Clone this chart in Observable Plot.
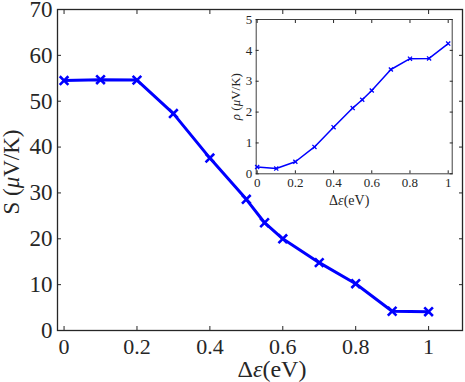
<!DOCTYPE html>
<html>
<head>
<meta charset="utf-8">
<script src="https://cdn.jsdelivr.net/npm/d3@7"></script>
<script src="https://cdn.jsdelivr.net/npm/@observablehq/plot@0.6"></script>
<style>
  body { margin: 0; background: white; font-family: serif; }
  #wrap { position: relative; width: 465px; height: 382px; }
  #inset { position: absolute; left: 220px; top: 0px; }
</style>
</head>
<body>
<div id="wrap"><div id="main"></div><div id="inset"></div></div>
<script>
// Data
const deltaEps = [0, 0.1, 0.2, 0.3, 0.4, 0.5, 0.55, 0.6, 0.7, 0.8, 0.9, 1.0];
const seebeck  = [54.5, 54.7, 54.6, 47.3, 37.6, 28.6, 23.5, 20.0, 14.8, 10.2, 4.2, 4.1];
const rho      = [0.22, 0.17, 0.39, 0.87, 1.51, 2.13, 2.40, 2.70, 3.38, 3.73, 3.74, 4.22];

const mainXTicks = [0, 0.2, 0.4, 0.6, 0.8, 1];
const mainYTicks = [0, 10, 20, 30, 40, 50, 60, 70];
const insetXTicks = [0, 0.2, 0.4, 0.6, 0.8, 1];
const insetYTicks = [0, 1, 2, 3, 4, 5];

const mainData = deltaEps.map((x, i) => ({x, y: seebeck[i]}));
const insetData = deltaEps.map((x, i) => ({x, y: rho[i]}));

const fmt = d => String(d);
const axisColor = "#262626";
const blue = "#0000ff";
const FONT = "Times New Roman";

const main = Plot.plot({
  width: 465, height: 382,
  marginLeft: 57, marginRight: 3, marginTop: 9, marginBottom: 52,
  style: {fontFamily: FONT, fontSize: "23px", background: "white", color: axisColor, overflow: "visible"},
  x: {domain: [-0.018, 1.093]},
  y: {domain: [0, 70]},
  marks: [
    Plot.frame({stroke: axisColor, strokeWidth: 1.3}),
    Plot.axisX(mainXTicks, {anchor: "bottom", tickSize: -4, tickFormat: () => "", label: null}),
    Plot.axisX(mainXTicks, {anchor: "top", tickSize: -4, tickFormat: () => "", label: null}),
    Plot.axisX(mainXTicks, {anchor: "bottom", tickSize: 0, tickPadding: 8, tickFormat: fmt, label: null, fontSize: 22, fontFamily: FONT}),
    Plot.axisY(mainYTicks, {anchor: "left", tickSize: -4, tickFormat: () => "", label: null}),
    Plot.axisY(mainYTicks, {anchor: "right", tickSize: -4, tickFormat: () => "", label: null}),
    Plot.axisY(mainYTicks, {anchor: "left", tickSize: 0, tickPadding: 5, tickFormat: fmt, label: null, fontSize: 23, fontFamily: FONT}),
    Plot.line(mainData, {x: "x", y: "y", stroke: blue, strokeWidth: 3}),
    Plot.dot(mainData, {x: "x", y: "y", symbol: "times", r: 4, stroke: blue, strokeWidth: 2.6}),
    Plot.text(["S (μV/K)"], {frameAnchor: "left", textAnchor: "middle", lineAnchor: "middle", rotate: -90, dx: -46, dy: 2, fontSize: 23, fontFamily: FONT, fill: axisColor}),
    Plot.text(["Δε(eV)"], {frameAnchor: "bottom", textAnchor: "middle", lineAnchor: "middle", dx: 12, dy: 39, fontSize: 24, fontFamily: FONT, fill: axisColor})
  ]
});

const inset = Plot.plot({
  width: 240, height: 210,
  marginLeft: 35.7, marginRight: 8.3, marginTop: 19, marginBottom: 36.7,
  style: {fontFamily: FONT, fontSize: "13px", background: "transparent", color: axisColor, overflow: "visible"},
  x: {domain: [-0.005, 1.021]},
  y: {domain: [0, 5]},
  marks: [
    Plot.frame({fill: "white", stroke: "#404040", strokeWidth: 1}),
    Plot.axisX(insetXTicks, {anchor: "bottom", tickSize: -3, tickFormat: () => "", label: null}),
    Plot.axisX(insetXTicks, {anchor: "top", tickSize: -3, tickFormat: () => "", label: null}),
    Plot.axisX(insetXTicks, {anchor: "bottom", tickSize: 0, tickPadding: 4, tickFormat: fmt, label: null, fontSize: 13, fontFamily: FONT}),
    Plot.axisY(insetYTicks, {anchor: "left", tickSize: -3, tickFormat: () => "", label: null}),
    Plot.axisY(insetYTicks, {anchor: "right", tickSize: -3, tickFormat: () => "", label: null}),
    Plot.axisY(insetYTicks, {anchor: "left", tickSize: 0, tickPadding: 4, tickFormat: fmt, label: null, fontSize: 13, fontFamily: FONT}),
    Plot.line(insetData, {x: "x", y: "y", stroke: blue, strokeWidth: 1.5}),
    Plot.dot(insetData, {x: "x", y: "y", symbol: "times", r: 2, stroke: blue, strokeWidth: 1.3}),
    Plot.text(["ρ (μV/K)"], {frameAnchor: "left", textAnchor: "middle", lineAnchor: "middle", rotate: -90, dx: -20, fontSize: 13, fontFamily: FONT, fill: axisColor}),
    Plot.text(["Δε(eV)"], {frameAnchor: "bottom", textAnchor: "middle", lineAnchor: "middle", dx: -5, dy: 27, fontSize: 14, fontFamily: FONT, fill: axisColor})
  ]
});

function italicize(svg) {
  const italics = new Set(["μ", "ε", "ρ"]);
  d3.select(svg).selectAll("text").each(function() {
    const el = this;
    if (el.querySelector("tspan")) return;
    const s = el.textContent;
    if (![...s].some(c => italics.has(c))) return;
    el.textContent = "";
    let buf = "", ital = null;
    const flush = () => {
      if (!buf) return;
      const t = document.createElementNS("http://www.w3.org/2000/svg", "tspan");
      if (ital) t.setAttribute("font-style", "italic");
      t.textContent = buf;
      el.appendChild(t);
      buf = "";
    };
    for (const c of s) {
      const it = italics.has(c);
      if (ital !== null && it !== ital) flush();
      ital = it;
      buf += c;
    }
    flush();
  });
}
italicize(main);
italicize(inset);

document.getElementById("main").appendChild(main);
document.getElementById("inset").appendChild(inset);
</script>
</body>
</html>
